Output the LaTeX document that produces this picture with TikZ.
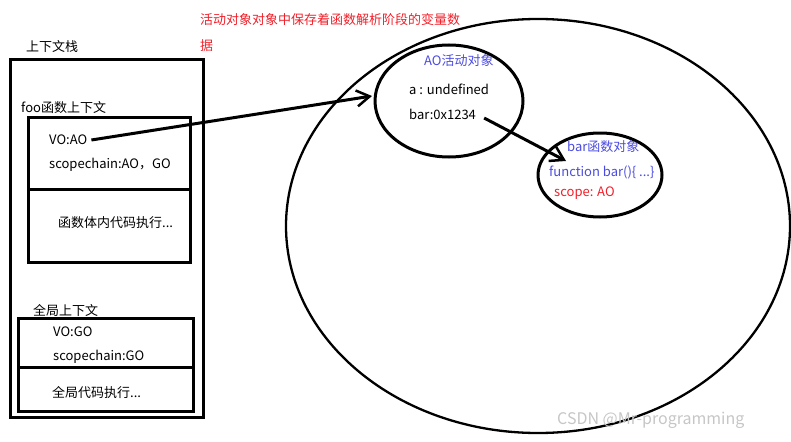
\documentclass[tikz,border=0pt]{standalone}
\usepackage{fontspec}
\setmainfont{Noto Sans CJK SC}
\usetikzlibrary{arrows.meta}
\definecolor{blu}{HTML}{4B4BE0}
\definecolor{rd}{HTML}{F0202A}
\tikzset{
  x=1pt,y=-1pt,
  box/.style={draw,line width=3pt},
  lbl/.style={font=\fontsize{13}{15}\selectfont,inner sep=0pt,anchor=west},
  arr/.style={line width=3pt,-{Straight Barb[length=13pt,width=16pt,line width=2.5pt]}}
}
\begin{document}
\begin{tikzpicture}
\useasboundingbox (0,0) rectangle (791,441);
% stack
\node[lbl] (t0) at (26,47) {上下文栈};
\draw[box] (10,60) rectangle (203,417);
\node[lbl] (t1) at (21,108) {foo函数上下文};
\draw[box] (28,117) rectangle (190,262);
\draw[box] (28,189) -- (190,189);
\node[lbl] (vo) at (49,140) {VO:AO};
\node[lbl] (sc) at (49,165) {scopechain:AO，GO};
\node[lbl] (fb) at (58,223) {函数体内代码执行...};
\node[lbl] (t2) at (33,310) {全局上下文};
\draw[box] (18,318) rectangle (193,411);
\draw[box] (18,367) -- (195,367);
\node[lbl] (vg) at (53,332) {VO:GO};
\node[lbl] (sg) at (53,357) {scopechain:GO};
\node[lbl] (gb) at (52,393) {全局代码执行...};
% red note
\node[lbl,text=rd] (n1) at (200,20) {活动对象对象中保存着函数解析阶段的变量数};
\node[lbl,text=rd] (n2) at (200,46) {据};
% ellipses
\draw[line width=2.3pt] (538,226) ellipse [x radius=252, y radius=207];
\draw[line width=3pt] (449,101) ellipse [x radius=74, y radius=56];
\draw[line width=3pt] (600,175) ellipse [x radius=62, y radius=42];
\node[lbl,text=blu] (ao) at (424,61) {AO活动对象};
\node[lbl] (a) at (409,89) {a : undefined};
\node[lbl] (bar) at (409,114) {bar:0x1234};
\node[lbl,text=blu] (bo) at (567,147) {bar函数对象};
\node[lbl,text=blu] (fn) at (549,172) {function bar()\{ ...\}};
\node[lbl,text=rd] (sp) at (554,193) {scope: AO};
% arrows
\coordinate (e1) at (372,96);
\coordinate (e2) at (566,161);
\draw[arr] ([xshift=4pt]vo.east) -- (e1);
\draw[arr] ([xshift=8pt,yshift=-4pt]bar.east) -- (e2);
% watermark
\node[lbl,text=gray!45,font=\fontsize{16}{18}\selectfont] (wm) at (557,420) {CSDN @Mr-programming};
\end{tikzpicture}
\end{document}
